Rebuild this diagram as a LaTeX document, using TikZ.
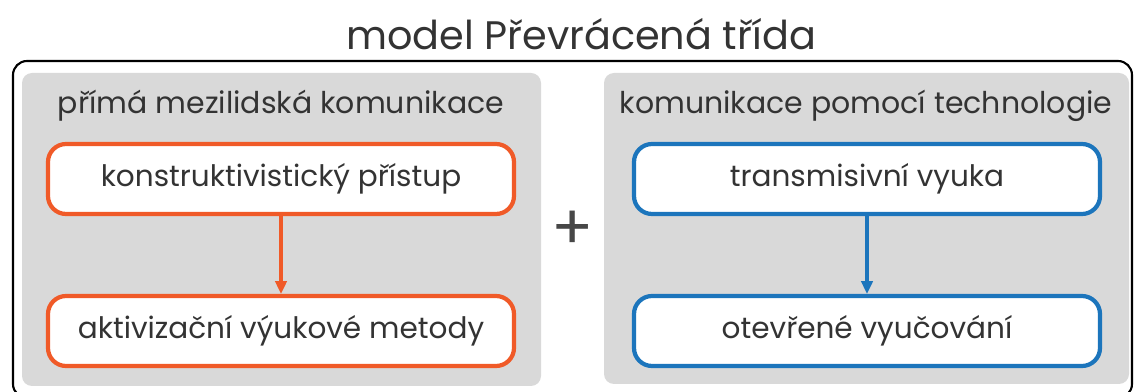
\documentclass[tikz,border=0pt]{standalone}
\usepackage{fontspec}
\setmainfont{Poppins}
\usetikzlibrary{arrows.meta}
\definecolor{panelgray}{RGB}{217,217,217}
\definecolor{txtgray}{RGB}{51,51,51}
\definecolor{methodorange}{RGB}{240,90,40}
\definecolor{techblue}{RGB}{28,117,188}
\begin{document}
\begin{tikzpicture}[x=0.025cm, y=-0.025cm,
    head/.style={text=txtgray, font=\fontsize{21.3}{24}\selectfont},
    item/.style={draw, fill=white, line width=3pt, rounded corners=0.45cm,
                 minimum width=466*0.025cm, minimum height=70*0.025cm,
                 text=txtgray, font=\fontsize{21}{24}\selectfont},
    link/.style={line width=2.2pt, -{Triangle[length=9pt,width=8pt]}}]
    \useasboundingbox (0,0) rectangle (1134,392);
    \node[text=txtgray, font=\fontsize{28.3}{32}\selectfont] (title) at (581,34) {model Převrácená třída};
    \draw[line width=1.5pt, rounded corners=0.35cm] (13,61) rectangle (1132,398);
    \fill[panelgray, rounded corners=0.25cm] (22,73) rectangle (541,386);
    \fill[panelgray, rounded corners=0.25cm] (604,73) rectangle (1129,384);
    \node[head] (human) at (281,106) {přímá mezilidská komunikace};
    \node[head] (tech) at (866,106) {komunikace pomocí technologie};
    \node[item, draw=methodorange] (constr) at (281,179) {konstruktivistický přístup};
    \node[item, draw=methodorange] (active) at (281,331) {aktivizační výukové metody};
    \node[item, draw=techblue] (trans) at (867,179) {transmisivní vyuka};
    \node[item, draw=techblue] (open) at (867,331) {otevřené vyučování};
    \draw[link, methodorange] (constr) -- (active);
    \draw[link, techblue] (trans) -- (open);
    \node[text=txtgray!90, font=\fontsize{44}{44}\selectfont] (plus) at (573,230) {+};
\end{tikzpicture}
\end{document}
